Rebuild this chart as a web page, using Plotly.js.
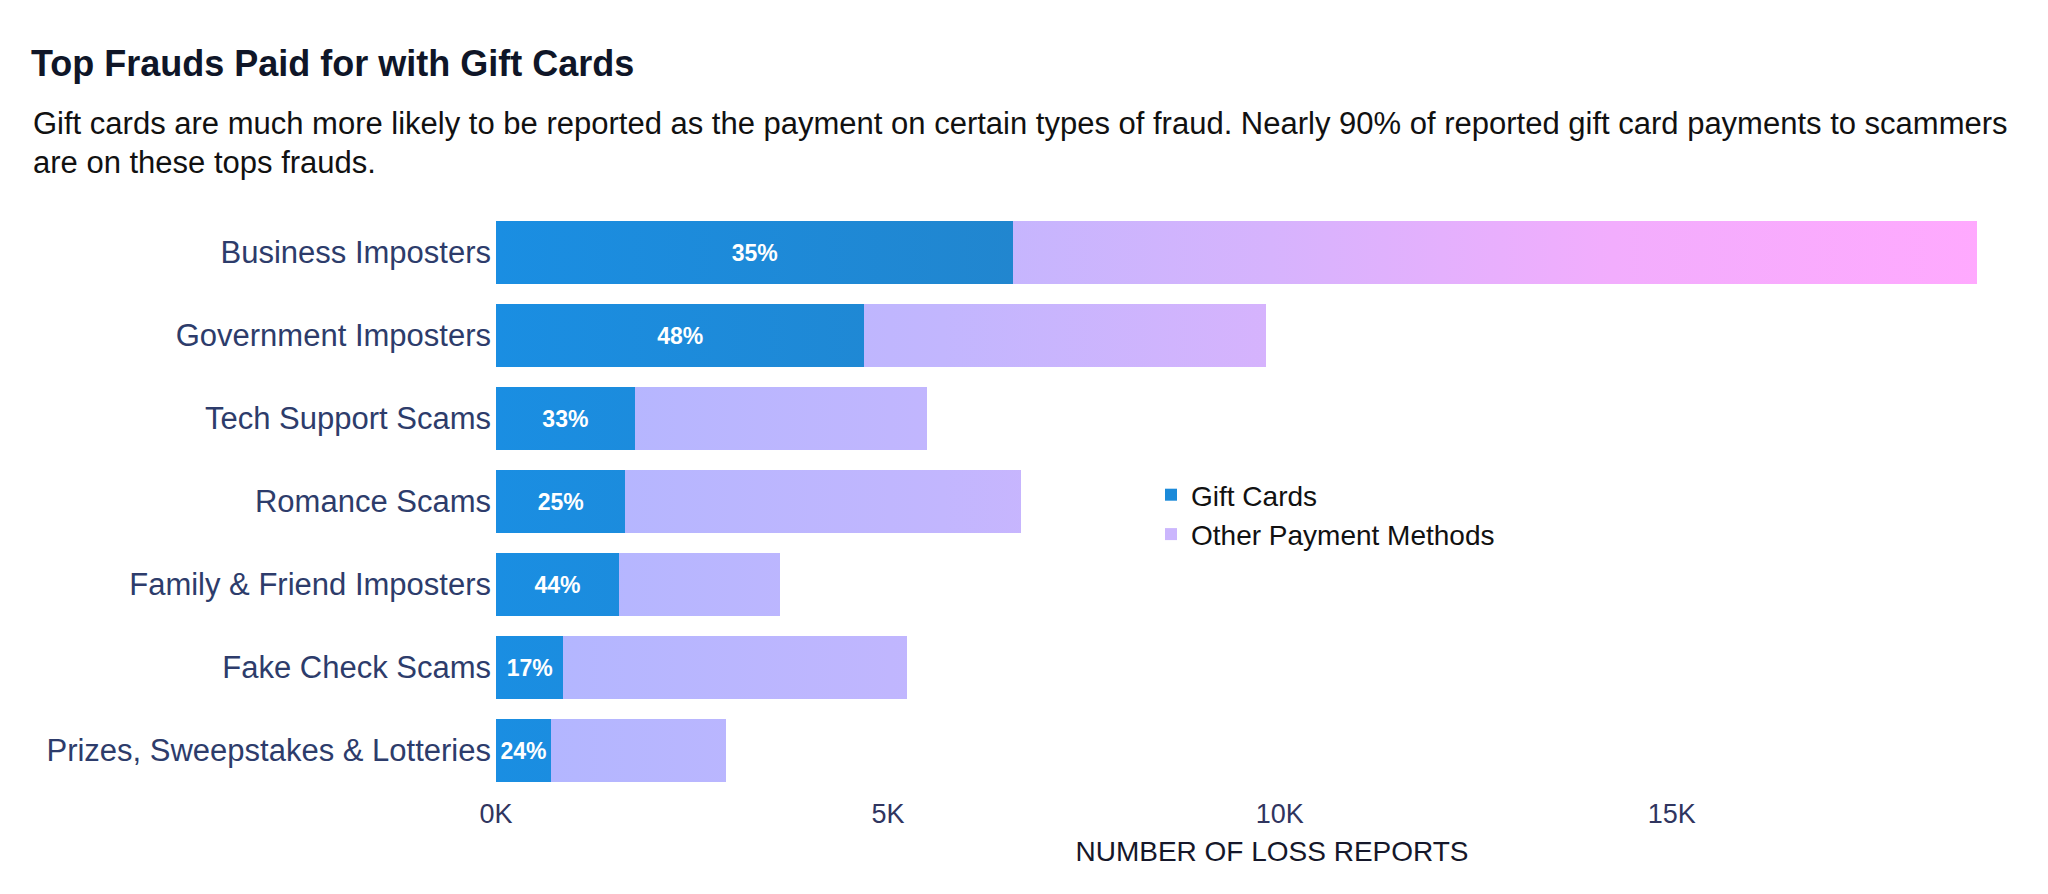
<!DOCTYPE html>
<html>
<head>
<meta charset="utf-8">
<script src="https://cdn.plot.ly/plotly-3.0.1.min.js"></script>
<style>
    html, body { margin: 0; padding: 0; background: #ffffff; }
    #chart { width: 2048px; height: 894px; }
</style>
</head>
<body>
<div id="chart"></div>
<script>
var categories = [
    'Business Imposters',
    'Government Imposters',
    'Tech Support Scams',
    'Romance Scams',
    'Family & Friend Imposters',
    'Fake Check Scams',
    'Prizes, Sweepstakes & Lotteries'
];
var giftCards = [6600, 4700, 1770, 1650, 1570, 860, 700];
var otherMethods = [12290, 5120, 3730, 5050, 2050, 4380, 2230];
var pctLabels = ['35%', '48%', '33%', '25%', '44%', '17%', '24%'];
var tickVals = [0, 5000, 10000, 15000];
var tickText = ['0K', '5K', '10K', '15K'];

var FONT = 'Liberation Sans, Arial, sans-serif';

var gd = document.getElementById('chart');

var data = [
    {
        type: 'bar',
        orientation: 'h',
        name: 'Gift Cards',
        y: categories,
        x: giftCards,
        text: pctLabels,
        textposition: 'inside',
        insidetextanchor: 'middle',
        textangle: 0,
        constraintext: 'none',
        insidetextfont: { family: FONT, size: 23, color: '#ffffff', weight: 'bold' },
        marker: { color: '#1b8ad9' },
        hoverinfo: 'skip'
    },
    {
        type: 'bar',
        orientation: 'h',
        name: 'Other Payment Methods',
        y: categories,
        x: otherMethods,
        marker: { color: '#cbb6fd' },
        hoverinfo: 'skip'
    }
];

var layout = {
    width: 2048,
    height: 894,
    paper_bgcolor: '#ffffff',
    plot_bgcolor: '#ffffff',
    margin: { t: 211, r: 0, b: 102, l: 496 },
    font: { family: FONT, color: '#111111' },
    barmode: 'stack',
    bargap: 0.24,
    showlegend: true,
    title: {
        text: '<b>Top Frauds Paid for with Gift Cards</b>',
        font: { family: FONT, size: 36, color: '#0f1628' },
        xref: 'container',
        yref: 'container',
        x: 31 / 2048,
        xanchor: 'left',
        y: 1 - 63 / 894,
        yanchor: 'middle'
    },
    annotations: [
        {
            text: 'Gift cards are much more likely to be reported as the payment on certain types of fraud. Nearly 90% of reported gift card payments to scammers',
            xref: 'paper', yref: 'paper',
            x: (31 - 496) / 1552, xanchor: 'left',
            y: 1 + (211 - 124) / 581, yanchor: 'middle',
            showarrow: false,
            font: { family: FONT, size: 31, color: '#111111' }
        },
        {
            text: 'are on these tops frauds.',
            xref: 'paper', yref: 'paper',
            x: (31 - 496) / 1552, xanchor: 'left',
            y: 1 + (211 - 163) / 581, yanchor: 'middle',
            showarrow: false,
            font: { family: FONT, size: 31, color: '#111111' }
        }
    ],
    xaxis: {
        range: [0, 19800],
        tickvals: tickVals,
        ticktext: tickText,
        showgrid: false,
        zeroline: false,
        showline: false,
        ticks: '',
        ticklabelstandoff: 3,
        tickfont: { family: FONT, size: 27, color: '#30355f' },
        title: {
            text: 'NUMBER OF LOSS REPORTS',
            font: { family: FONT, size: 28, color: '#15172a' },
            standoff: 13
        },
        fixedrange: true
    },
    yaxis: {
        type: 'category',
        autorange: 'reversed',
        showgrid: false,
        zeroline: false,
        showline: false,
        ticks: '',
        ticklabelstandoff: 4,
        tickfont: { family: FONT, size: 31, color: '#2d3c6b' },
        fixedrange: true
    },
    legend: {
        x: (1151 - 496) / 1552,
        xanchor: 'left',
        y: 1 - (470 - 211) / 581,
        yanchor: 'top',
        bgcolor: 'rgba(0,0,0,0)',
        font: { family: FONT, size: 28, color: '#111111' },
        traceorder: 'normal'
    }
};

var options = { displayModeBar: false, staticPlot: true };

Plotly.newPlot(gd, data, layout, options).then(function () {
    applyGradients();
});

function applyGradients() {
    // Plotly bars only take flat colours. The source fades the bars along x,
    // so hang SVG gradients in user space on the drawn bar paths.
    var xa = gd._fullLayout.xaxis;
    var svg = gd.querySelector('.main-svg');
    var ns = 'http://www.w3.org/2000/svg';
    var defs = document.createElementNS(ns, 'defs');
    svg.insertBefore(defs, svg.firstChild);

    makeGradient(defs, 'giftGrad', xa.l2p(0), xa.l2p(19000),
        [[0, '#1a8ee2'], [0.35, '#2186cf'], [1, '#2a7fc0']]);
    makeGradient(defs, 'otherGrad', xa.l2p(0), xa.l2p(19000),
        [[0, '#b1b6ff'], [0.3, '#c2b6fe'], [0.52, '#d6b3fd'], [0.75, '#f2adfd'], [1, '#ffa9fe']]);

    var traces = gd.querySelectorAll('.barlayer .trace');
    var ids = ['giftGrad', 'otherGrad'];
    for (var i = 0; i < traces.length; i++) {
        var paths = traces[i].querySelectorAll('path');
        for (var j = 0; j < paths.length; j++) {
            paths[j].style.fill = 'url(#' + ids[i] + ')';
        }
    }
}

function makeGradient(defs, id, x1, x2, stops) {
    var ns = 'http://www.w3.org/2000/svg';
    var g = document.createElementNS(ns, 'linearGradient');
    g.setAttribute('id', id);
    g.setAttribute('gradientUnits', 'userSpaceOnUse');
    g.setAttribute('x1', x1);
    g.setAttribute('x2', x2);
    g.setAttribute('y1', 0);
    g.setAttribute('y2', 0);
    for (var i = 0; i < stops.length; i++) {
        var s = document.createElementNS(ns, 'stop');
        s.setAttribute('offset', stops[i][0]);
        s.setAttribute('stop-color', stops[i][1]);
        g.appendChild(s);
    }
    defs.appendChild(g);
}
</script>
</body>
</html>
